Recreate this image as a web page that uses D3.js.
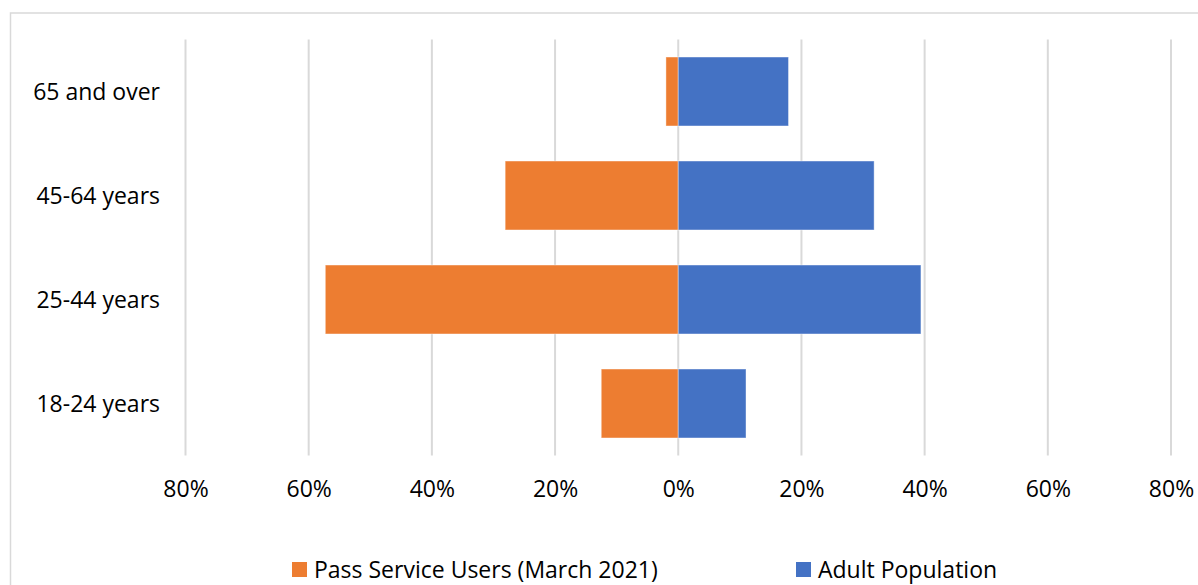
<!DOCTYPE html>
<html>
  <head>
    <meta charset="utf-8">
    <title>Age profile</title>
    <script src="https://cdn.jsdelivr.net/npm/d3@7"></script>
    <style>
      body { margin: 0; background: #fff; }
      svg { font-family: "Open Sans", sans-serif; }
      .tick text, .cat, .legend text { fill: #000; font-size: 23px; }
    </style>
  </head>
  <body>
    <svg id="chart" width="1198" height="585"></svg>

    <script>
      // data
      categories = ["65 and over", "45-64 years", "25-44 years", "18-24 years"];
      passUsers = [2.0, 28.1, 57.3, 12.5];
      adultPop = [17.9, 31.8, 39.4, 11.0];
      ticks = [-80, -60, -40, -20, 0, 20, 40, 60, 80];
      seriesNames = ["Pass Service Users (March 2021)", "Adult Population"];

      orange = "#ED7D31";
      blue = "#4472C4";
      grid = "#D9D9D9";

      svg = d3.select("#chart");

      // chart frame
      svg.append("rect")
        .attr("x", 10.5)
        .attr("y", 13)
        .attr("width", 1300)
        .attr("height", 700)
        .attr("fill", "none")
        .attr("stroke", grid)
        .attr("stroke-width", 1.5);

      x = d3.scaleLinear()
        .domain([-80, 80])
        .range([185.5, 1171]);

      y = d3.scaleBand()
        .domain(categories)
        .range([39.5, 455.5])
        .paddingInner(.337)
        .paddingOuter(.337 / 2);

      // gridlines
      svg.append("g")
        .selectAll("line")
          .data(ticks)
        .enter().append("line")
          .attr("x1", function(d) { return x(d); })
          .attr("x2", function(d) { return x(d); })
          .attr("y1", 39.5)
          .attr("y2", 455.5)
          .attr("stroke", grid)
          .attr("stroke-width", 2);

      // bars
      bars = svg.append("g");
      bars.selectAll(".pass")
          .data(categories)
        .enter().append("rect")
          .classed("pass", true)
          .attr("x", function(d, i) { return x(-passUsers[i]); })
          .attr("width", function(d, i) { return x(0) - x(-passUsers[i]); })
          .attr("y", function(d) { return y(d); })
          .attr("height", y.bandwidth())
          .attr("fill", orange)
          .attr("stroke", "#fff")
          .attr("stroke-opacity", .4)
          .attr("stroke-width", 1);

      bars.selectAll(".adult")
          .data(categories)
        .enter().append("rect")
          .classed("adult", true)
          .attr("x", x(0))
          .attr("width", function(d, i) { return x(adultPop[i]) - x(0); })
          .attr("y", function(d) { return y(d); })
          .attr("height", y.bandwidth())
          .attr("fill", blue)
          .attr("stroke", "#fff")
          .attr("stroke-opacity", .4)
          .attr("stroke-width", 1);

      // category labels
      svg.append("g")
        .selectAll("text")
          .data(categories)
        .enter().append("text")
          .classed("cat", true)
          .attr("x", 160)
          .attr("y", function(d) { return y(d) + y.bandwidth() / 2; })
          .attr("dy", "0.35em")
          .attr("text-anchor", "end")
          .text(function(d) { return d; });

      // x axis labels
      axis = d3.axisBottom(x)
        .tickValues(ticks)
        .tickSize(0)
        .tickPadding(0)
        .tickFormat(function(d) { return Math.abs(d) + "%"; });

      axisGroup = svg.append("g")
        .attr("transform", "translate(0, 481)")
        .call(axis);
      axisGroup.select(".domain").remove();
      axisGroup.attr("font-family", null).attr("font-size", null);

      // legend
      legendItems = [
        { name: seriesNames[0], colour: orange, x: 292 },
        { name: seriesNames[1], colour: blue, x: 796 }
      ];
      legend = svg.append("g").classed("legend", true)
        .selectAll("g")
          .data(legendItems)
        .enter().append("g")
          .attr("transform", function(d) { return "translate(" + d.x + ", 562)"; });
      legend.append("rect")
        .attr("width", 15)
        .attr("height", 15)
        .attr("fill", function(d) { return d.colour; });
      legend.append("text")
        .attr("x", 22)
        .attr("y", 7.5)
        .attr("dy", "0.35em")
        .text(function(d) { return d.name; });
    </script>
  </body>
</html>
